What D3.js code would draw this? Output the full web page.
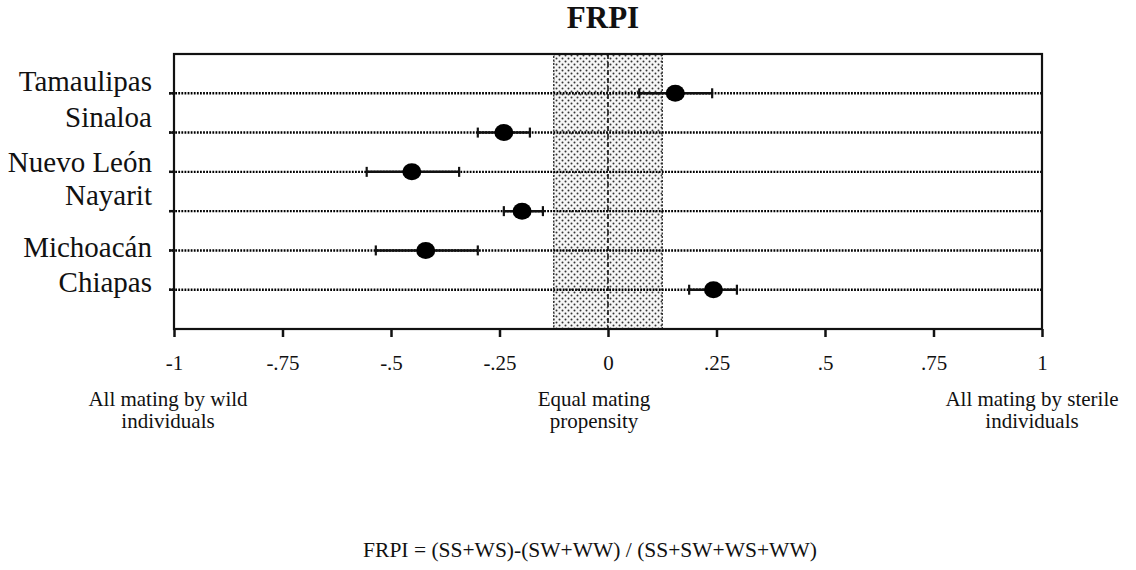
<!DOCTYPE html>
<html><head><meta charset="utf-8">
<script src="https://cdn.jsdelivr.net/npm/d3@7"></script>
<style>body{margin:0;background:#fff}svg{display:block}text{font-family:"Liberation Serif","Times New Roman",serif;fill:#111}</style>
</head><body>
<svg id="c" width="1136" height="570"></svg>
<script>
const regions = ["Tamaulipas","Sinaloa","Nuevo León","Nayarit","Michoacán","Chiapas"];
const frpi  = [0.155, -0.24, -0.452, -0.198, -0.42, 0.243];
const lower = [0.072, -0.30, -0.556, -0.24, -0.535, 0.187];
const upper = [0.240, -0.18, -0.343, -0.15, -0.30, 0.297];
const tickValues = [-1,-0.75,-0.5,-0.25,0,0.25,0.5,0.75,1];
const tickLabels = ["-1","-.75","-.5","-.25","0",".25",".5",".75","1"];
const equalBand = [-0.125, 0.125];
const annotations = [
  {v:-1, lines:["All mating by wild","individuals"]},
  {v:0, lines:["Equal mating","propensity"]},
  {v:1, lines:["All mating by sterile","individuals"]}
];
const title = "FRPI";
const formula = "FRPI = (SS+WS)-(SW+WW) / (SS+SW+WS+WW)";

// layout
const L=174, R=1042, T=54, B=329;
const labelDy = [-2,-6,0,-6,7,2];
const annDx = [-6,-14,-10];

const svg = d3.select("#c");
const x = d3.scaleLinear().domain([-1,1]).range([L,R]);
const y = d3.scaleLinear().domain([0,regions.length+1]).range([T,B]);

const defs = svg.append("defs");
const pat = defs.append("pattern").attr("id","dots").attr("patternUnits","userSpaceOnUse")
  .attr("width",6).attr("height",6);
pat.append("rect").attr("width",6).attr("height",6).attr("fill","#f6f6f6");
pat.append("circle").attr("cx",1.5).attr("cy",1.5).attr("r",1).attr("fill","#333");
pat.append("circle").attr("cx",4.5).attr("cy",4.5).attr("r",1).attr("fill","#333");

// title
svg.append("text").attr("x",603).attr("y",28).attr("text-anchor","middle")
  .style("font-size","31px").style("font-weight","bold").text(title);

// band
svg.append("rect").attr("x",x(equalBand[0])).attr("y",T)
  .attr("width",x(equalBand[1])-x(equalBand[0])).attr("height",B-T)
  .attr("fill","url(#dots)").attr("stroke","#222").attr("stroke-width",1.3).attr("stroke-dasharray","2,1.5");
svg.append("line").attr("x1",x(0)).attr("x2",x(0)).attr("y1",T).attr("y2",B)
  .attr("stroke","#111").attr("stroke-width",1.6).attr("stroke-dasharray","5,3");

// row dotted lines
const rows = svg.append("g");
regions.forEach((r,i)=>{
  const yy = y(i+1);
  rows.append("line").attr("x1",L-5).attr("x2",R).attr("y1",yy).attr("y2",yy)
    .attr("stroke","#000").attr("stroke-width",2.4).attr("stroke-dasharray","1.8,1.3");
  rows.append("line").attr("x1",L-5).attr("x2",L).attr("y1",yy).attr("y2",yy)
    .attr("stroke","#111").attr("stroke-width",2.4);
  svg.append("text").attr("x",152).attr("y",yy+labelDy[i]).attr("text-anchor","end")
    .style("font-size","29px").text(r);
});

// frame
svg.append("rect").attr("x",L).attr("y",T).attr("width",R-L).attr("height",B-T)
  .attr("fill","none").attr("stroke","#111").attr("stroke-width",2.2);

// x axis
const ax = svg.append("g").attr("transform",`translate(0,${B})`)
  .call(d3.axisBottom(x).tickValues(tickValues).tickSize(8).tickFormat((d,i)=>tickLabels[i]));
ax.select(".domain").remove();
ax.selectAll(".tick line").attr("stroke","#111").attr("stroke-width",2.5);
ax.selectAll(".tick text").attr("y",41).attr("dy",0).style("font-size","21px")
  .style("font-family","'Liberation Serif','Times New Roman',serif").attr("fill","#111");

// annotations
annotations.forEach((a,i)=>{
  const t = svg.append("text").attr("text-anchor","middle").style("font-size","21px");
  a.lines.forEach((ln,j)=>{
    t.append("tspan").attr("x",x(a.v)+annDx[i]).attr("y",406+j*22).text(ln);
  });
});

// error bars and points
const g = svg.append("g");
regions.forEach((r,i)=>{
  const yy=y(i+1);
  g.append("line").attr("x1",x(lower[i])).attr("x2",x(upper[i])).attr("y1",yy).attr("y2",yy)
    .attr("stroke","#111").attr("stroke-width",2.5);
  [lower[i],upper[i]].forEach(v=>{
    g.append("line").attr("x1",x(v)).attr("x2",x(v)).attr("y1",yy-5).attr("y2",yy+5)
      .attr("stroke","#111").attr("stroke-width",2.2);
  });
  g.append("ellipse").attr("cx",x(frpi[i])).attr("cy",yy).attr("rx",9.5).attr("ry",8.5).attr("fill","#000");
});

// formula
svg.append("text").attr("x",590).attr("y",557).attr("text-anchor","middle")
  .style("font-size","21.5px").text(formula);
</script>
</body></html>
